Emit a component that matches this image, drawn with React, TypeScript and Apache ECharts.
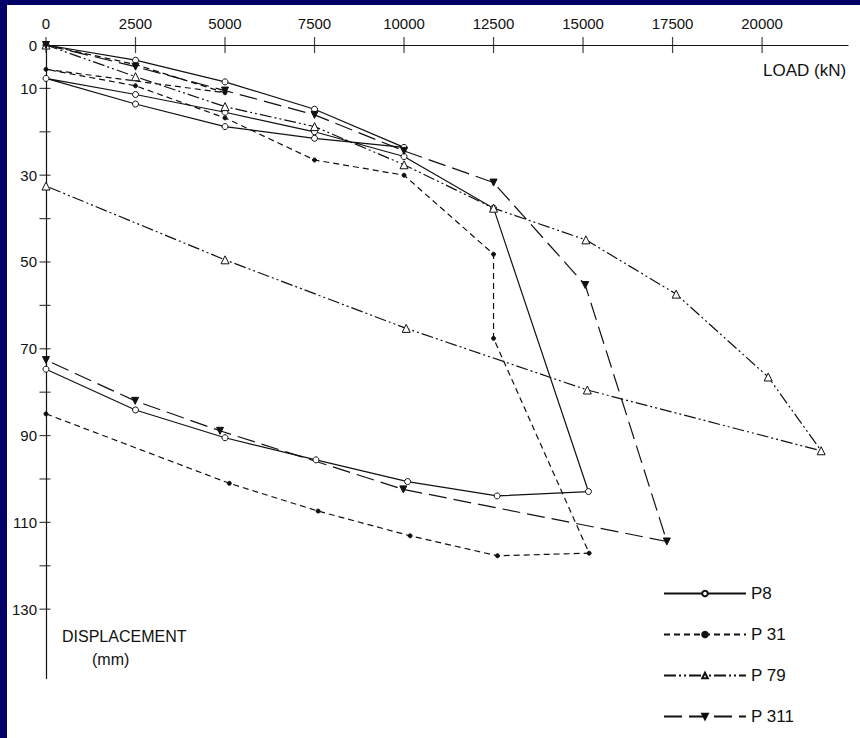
import React, { useEffect, useRef } from "react";
import * as echarts from "echarts";

// Axis ticks and labels
const X_TICKS = [0, 2500, 5000, 7500, 10000, 12500, 15000, 17500, 20000];
const Y_TICKS = [10, 20, 30, 40, 50, 60, 70, 80, 90, 100, 110, 120, 130];
const Y_LABELS = [0, 10, 30, 50, 70, 90, 110, 130];

// Series names
const NAMES = ["P8", "P 31", "P 79", "P 311"];

// P8 load (kN) / displacement (mm)
const P8_LOAD = [0, 2500, 5000, 7500, 10000, 7500, 5000, 2500, 0, 2500, 5000, 7500, 10000, 12500, 15150, 12600, 10100, 7540, 5000, 2500, 0];
const P8_DISP = [0, 3.5, 8.5, 14.8, 23.6, 21.5, 18.8, 13.6, 7.7, 11.4, 15.5, 20, 25.7, 37.6, 102.9, 103.9, 100.6, 95.6, 90.5, 84.1, 74.7];

// P31
const P31_LOAD = [0, 2500, 5000, 0, 2500, 5000, 7500, 10000, 12500, 12500, 15170, 12610, 10170, 7600, 5120, 0];
const P31_DISP = [0, 4.5, 11, 5.6, 9.4, 16.8, 26.5, 30, 48.2, 67.6, 117.1, 117.7, 113.1, 107.4, 101, 85];

// P79
const P79_LOAD = [0, 2500, 5000, 7500, 10000, 12500, 15080, 17600, 20170, 21650, 15120, 10060, 5000, 0];
const P79_DISP = [0, 7.3, 14.2, 18.8, 27.6, 37.6, 44.9, 57.4, 76.5, 93.5, 79.5, 65.3, 49.5, 32.5];

// P311
const P311_LOAD = [0, 2500, 5000, 7500, 10000, 12500, 15060, 17340, 9980, 4860, 2490, 0];
const P311_DISP = [0, 5, 10.5, 16.1, 24.4, 31.7, 55.3, 114.4, 102.4, 88.9, 82, 72.6];

const zip = (a: number[], b: number[]) => a.map((v, i) => [v, b[i]]);

const FONT = "Liberation Sans";
const INK = "#111";

export default function App() {
  const ref = useRef<HTMLDivElement>(null);
  useEffect(() => {
    if (!ref.current) return;
    const chart = echarts.init(ref.current, null, { renderer: "svg" });
    const line = (
      name: string,
      data: number[][],
      dash: any,
      symbol: string,
      size: number,
      fill: string,
      rotate = 0
    ) => ({
      name,
      type: "line",
      data,
      symbol,
      symbolSize: size,
      symbolRotate: rotate,
      showAllSymbol: true,
      clip: false,
      lineStyle: { color: INK, width: 1.2, type: dash },
      itemStyle: { color: fill, borderColor: INK, borderWidth: 1 },
      emphasis: { disabled: true },
      z: 3,
    });
    chart.setOption({
      animation: false,
      backgroundColor: "#ffffff",
      grid: { left: 39, top: 40, width: 802, height: 633.6 },
      xAxis: {
        type: "value",
        position: "top",
        min: 0,
        max: 22400,
        interval: 2500,
        axisLine: { lineStyle: { color: INK, width: 1.2 } },
        axisTick: { show: false },
        splitLine: { show: false },
        axisLabel: {
          margin: 14,
          color: INK,
          fontFamily: FONT,
          fontSize: 15,
          formatter: (v: number) => (X_TICKS.includes(v) ? String(v) : ""),
        },
      },
      yAxis: {
        type: "value",
        inverse: true,
        min: 0,
        max: 146,
        interval: 10,
        axisLine: { lineStyle: { color: INK, width: 1.2 } },
        axisTick: { show: false },
        splitLine: { show: false },
        axisLabel: {
          margin: 9,
          color: INK,
          fontFamily: FONT,
          fontSize: 15,
          formatter: (v: number) => (Y_LABELS.includes(v) ? String(v) : ""),
        },
      },
      legend: {
        data: NAMES,
        orient: "vertical",
        left: 656,
        top: 580,
        padding: 0,
        itemWidth: 82,
        itemHeight: 7,
        itemGap: 24,
        textStyle: { color: INK, fontFamily: FONT, fontSize: 17 },
        selectedMode: false,
      },
      graphic: [
        {
          type: "text",
          left: 756,
          top: 57,
          style: { text: "LOAD (kN)", fill: INK, font: `17px '${FONT}'` },
        },
        {
          type: "text",
          left: 55,
          top: 623,
          style: { text: "DISPLACEMENT", fill: INK, font: `16px '${FONT}'` },
        },
        {
          type: "text",
          left: 85,
          top: 646,
          style: { text: "(mm)", fill: INK, font: `16px '${FONT}'` },
        },
      ],
      series: [
        line(NAMES[0], zip(P8_LOAD, P8_DISP), "solid", "circle", 6, "#fff"),
        line(NAMES[1], zip(P31_LOAD, P31_DISP), [6, 4], "circle", 4, INK),
        line(NAMES[2], zip(P79_LOAD, P79_DISP), [12, 3, 2, 3, 2, 3], "triangle", 8, "#fff"),
        line(NAMES[3], zip(P311_LOAD, P311_DISP), [18, 7], "triangle", 7, INK, 180),
        {
          type: "scatter",
          name: "xticks",
          data: X_TICKS.map((v) => [v, 0]),
          symbol: "rect",
          symbolSize: [1.2, 16],
          itemStyle: { color: INK },
          clip: false,
          silent: true,
          z: 2,
        },
        {
          type: "scatter",
          name: "yticks",
          data: Y_TICKS.map((v) => [0, v]),
          symbol: "rect",
          symbolSize: [11, 1.2],
          symbolOffset: [-1, 0],
          itemStyle: { color: INK },
          clip: false,
          silent: true,
          z: 2,
        },
      ],
    });
    return () => chart.dispose();
  }, []);
  return (
    <div
      style={{
        position: "absolute",
        left: 0,
        top: 0,
        width: 860,
        height: 738,
        background: "#000066",
      }}
    >
      <div
        ref={ref}
        style={{ position: "absolute", left: 7, top: 5, width: 853, height: 733, background: "#fff" }}
      />
    </div>
  );
}
